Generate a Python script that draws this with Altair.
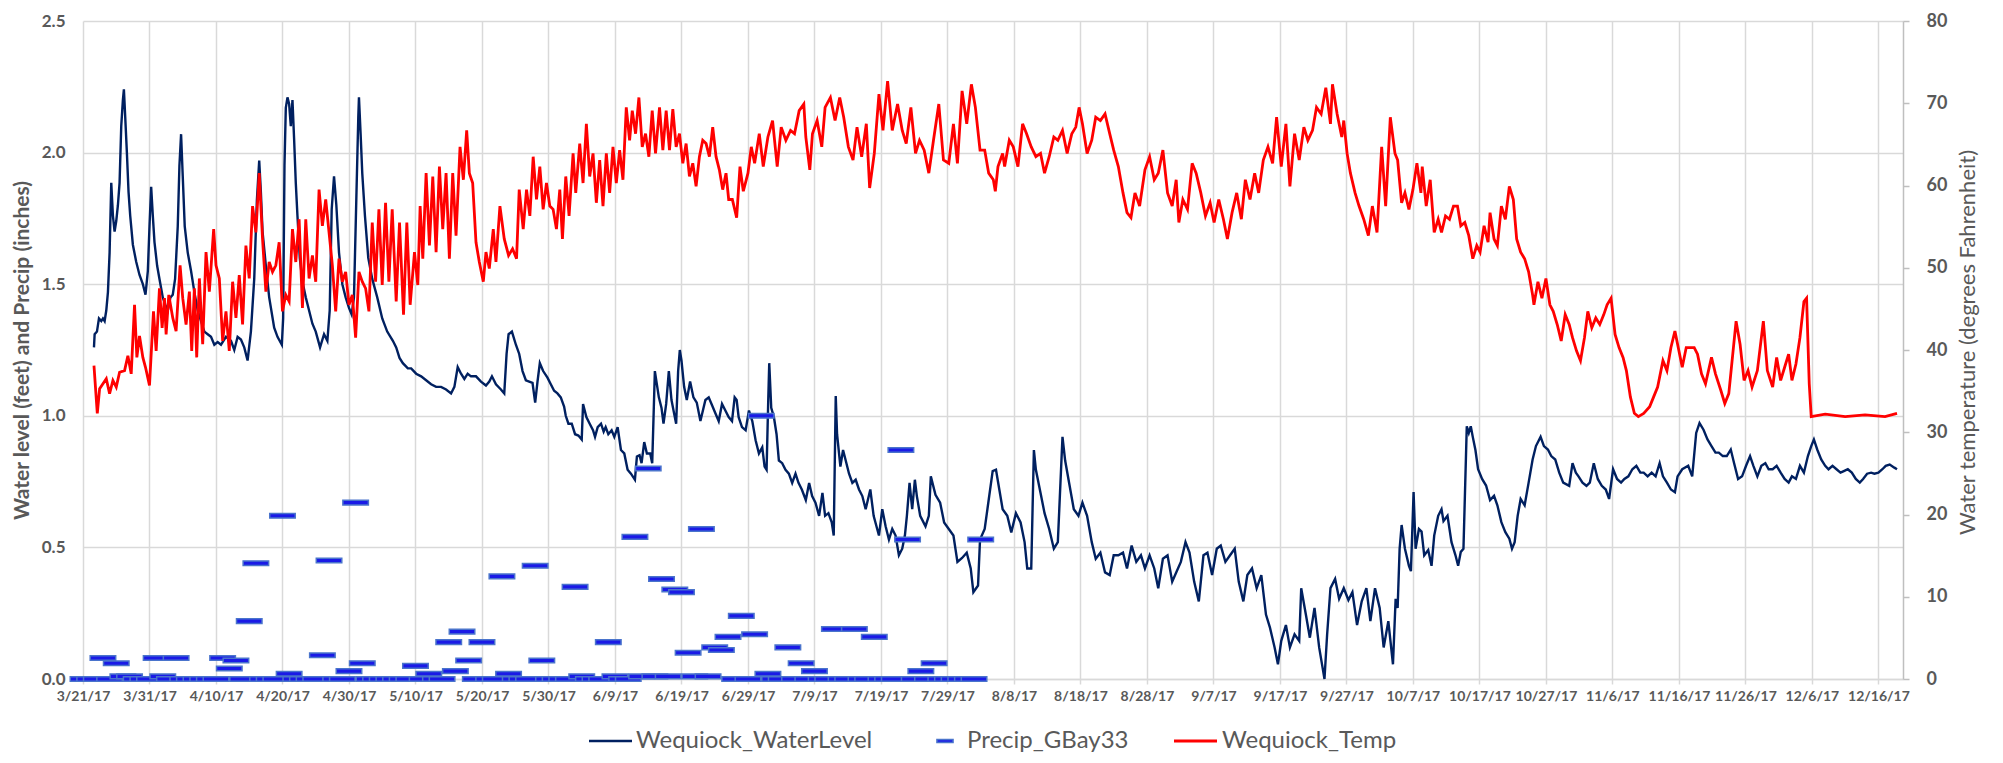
import json
import altair as alt
import pandas as pd

FONT = "Lato"
GREY = "#595959"
GRID = "#d9d9d9"

# x tick labels, one every 10 days starting 3/21/17 (day 0)
tick_labels = ["3/21/17", "3/31/17", "4/10/17", "4/20/17", "4/30/17", "5/10/17", "5/20/17",
               "5/30/17", "6/9/17", "6/19/17", "6/29/17", "7/9/17", "7/19/17", "7/29/17",
               "8/8/17", "8/18/17", "8/28/17", "9/7/17", "9/17/17", "9/27/17", "10/7/17",
               "10/17/17", "10/27/17", "11/6/17", "11/16/17", "11/26/17", "12/6/17", "12/16/17"]
tick_days = [10 * i for i in range(len(tick_labels))]

legend_names = ["Wequiock_WaterLevel", "Precip_GBay33", "Wequiock_Temp"]

# Wequiock water level (feet): (days since 3/21/17, value)
wl_points = [
    (1.65, 1.26), (1.75, 1.31), (2.1, 1.32), (2.4, 1.37), (2.75, 1.36), (3.0, 1.37), (3.25, 1.36),
    (3.5, 1.40), (3.75, 1.47), (4.0, 1.62), (4.25, 1.885), (4.5, 1.76), (4.75, 1.70), (5.0, 1.74),
    (5.25, 1.80), (5.5, 1.885), (5.75, 2.10), (6.0, 2.20), (6.15, 2.24), (6.35, 2.135), (6.6, 2.0),
    (6.85, 1.85), (7.1, 1.76), (7.5, 1.65), (8.0, 1.585), (8.5, 1.535), (9.0, 1.50), (9.4, 1.46),
    (9.75, 1.55), (10.0, 1.72), (10.25, 1.87), (10.5, 1.76), (10.75, 1.66), (11.15, 1.57),
    (11.5, 1.52), (12.0, 1.45), (12.4, 1.42), (12.75, 1.40), (13.15, 1.45), (13.5, 1.46),
    (13.85, 1.52), (14.25, 1.72), (14.5, 1.95), (14.75, 2.07), (15.0, 1.91), (15.3, 1.72),
    (15.75, 1.62), (16.25, 1.55), (16.75, 1.47), (17.25, 1.40), (17.75, 1.36), (18.25, 1.32),
    (18.75, 1.31), (19.25, 1.30), (19.75, 1.27), (20.25, 1.28), (20.75, 1.27), (21.5, 1.30),
    (22.25, 1.285), (22.75, 1.25), (23.25, 1.30), (23.75, 1.29), (24.25, 1.26), (24.75, 1.21),
    (25.25, 1.32), (25.75, 1.52), (26.15, 1.82), (26.5, 1.97), (26.75, 1.85), (27.0, 1.70),
    (27.5, 1.57), (28.0, 1.45), (28.75, 1.335), (29.25, 1.30), (29.9, 1.27), (30.1, 1.37),
    (30.3, 1.95), (30.5, 2.17), (30.75, 2.21), (31.0, 2.185), (31.25, 2.10), (31.5, 2.20),
    (31.75, 2.05), (32.0, 1.885), (32.25, 1.76), (32.6, 1.60), (33.0, 1.51), (33.5, 1.45),
    (34.0, 1.40), (34.5, 1.35), (35.0, 1.32), (35.65, 1.26), (36.25, 1.31), (36.75, 1.285),
    (37.1, 1.40), (37.4, 1.785), (37.75, 1.91), (38.1, 1.80), (38.5, 1.62), (39.0, 1.50),
    (39.5, 1.45), (40.0, 1.41), (40.4, 1.385), (40.75, 1.45), (41.1, 1.82), (41.4, 2.135),
    (41.5, 2.21), (41.75, 2.07), (42.0, 1.92), (42.4, 1.76), (42.9, 1.60), (43.5, 1.52),
    (44.25, 1.45), (45.0, 1.37), (45.75, 1.32), (46.6, 1.285), (47.1, 1.26), (47.6, 1.22),
    (48.1, 1.20), (48.85, 1.18), (49.35, 1.18), (50.1, 1.16), (50.85, 1.15), (51.6, 1.135),
    (52.35, 1.12), (53.1, 1.11), (53.85, 1.11), (54.6, 1.10), (55.35, 1.085), (55.85, 1.11),
    (56.35, 1.185), (56.85, 1.16), (57.35, 1.14), (57.85, 1.16), (58.35, 1.15), (59.1, 1.15),
    (59.85, 1.13), (60.6, 1.115), (61.1, 1.13), (61.5, 1.15), (62.1, 1.12), (62.85, 1.10),
    (63.35, 1.085), (63.7, 1.235), (64.0, 1.31), (64.5, 1.32), (65.1, 1.27), (65.6, 1.235),
    (66.1, 1.17), (66.6, 1.135), (67.1, 1.13), (67.6, 1.125), (68.0, 1.05), (68.35, 1.13),
    (68.7, 1.20), (69.2, 1.17), (69.85, 1.145), (70.35, 1.12), (70.85, 1.095), (71.35, 1.085),
    (71.85, 1.07), (72.35, 1.035), (72.6, 1.0), (73.0, 0.97), (73.5, 0.97), (74.0, 0.93),
    (74.5, 0.925), (75.0, 0.91), (75.2, 1.045), (75.7, 0.995), (76.2, 0.97), (76.7, 0.945),
    (77.0, 0.92), (77.4, 0.957), (77.9, 0.97), (78.3, 0.94), (78.6, 0.957), (79.0, 0.93),
    (79.5, 0.945), (79.9, 0.92), (80.4, 0.957), (80.9, 0.87), (81.4, 0.857), (81.9, 0.795),
    (82.4, 0.78), (83.0, 0.757), (83.3, 0.845), (83.7, 0.85), (84.0, 0.82), (84.4, 0.90),
    (84.8, 0.857), (85.3, 0.857), (85.6, 0.82), (85.8, 0.995), (86.0, 1.17), (86.6, 1.07),
    (87.0, 1.03), (87.3, 0.97), (87.7, 1.045), (88.1, 1.17), (88.5, 1.06), (89.0, 0.995),
    (89.2, 0.97), (89.5, 1.17), (89.75, 1.25), (90.0, 1.21), (90.4, 1.11), (90.8, 1.06),
    (91.3, 1.13), (91.8, 1.07), (92.3, 1.05), (92.85, 0.98), (93.6, 1.06), (94.1, 1.07),
    (94.6, 1.04), (95.1, 1.01), (95.6, 0.98), (96.1, 1.045), (96.6, 1.02), (97.1, 0.995),
    (97.6, 0.98), (98.0, 1.07), (98.3, 1.06), (98.6, 0.995), (99.1, 0.957), (99.65, 0.945),
    (100.15, 1.02), (100.65, 0.98), (101.15, 0.907), (101.65, 0.857), (102.15, 0.88),
    (102.5, 0.807), (102.8, 0.795), (103.05, 1.06), (103.2, 1.20), (103.5, 1.03), (103.9, 0.995),
    (104.3, 0.93), (104.65, 0.83), (105.15, 0.82), (105.65, 0.795), (106.15, 0.78),
    (106.65, 0.745), (107.15, 0.78), (107.6, 0.745), (108.1, 0.72), (108.7, 0.68), (109.2, 0.745),
    (109.65, 0.695), (110.15, 0.67), (110.7, 0.62), (111.2, 0.707), (111.6, 0.62), (112.1, 0.63),
    (112.6, 0.595), (112.9, 0.545), (113.2, 1.075), (113.4, 0.93), (113.9, 0.807), (114.3, 0.87),
    (114.7, 0.83), (115.2, 0.78), (115.7, 0.745), (116.2, 0.757), (116.7, 0.72), (117.2, 0.695),
    (117.7, 0.645), (118.4, 0.72), (118.9, 0.62), (119.7, 0.545), (120.2, 0.645), (120.7, 0.58),
    (121.2, 0.53), (121.7, 0.57), (122.2, 0.545), (122.7, 0.47), (123.2, 0.495), (123.6, 0.545),
    (123.9, 0.62), (124.3, 0.745), (124.7, 0.645), (125.1, 0.757), (125.4, 0.695), (125.9, 0.62),
    (126.7, 0.58), (127.2, 0.62), (127.5, 0.77), (128.2, 0.70), (128.9, 0.67), (129.5, 0.595),
    (130.2, 0.57), (130.9, 0.545), (131.5, 0.445), (132.2, 0.46), (132.9, 0.48), (133.5, 0.42),
    (133.9, 0.33), (134.6, 0.355), (134.9, 0.53), (135.6, 0.57), (136.2, 0.68), (136.8, 0.79),
    (137.3, 0.795), (137.8, 0.72), (138.3, 0.645), (139.0, 0.62), (139.6, 0.557), (140.3, 0.63),
    (141.0, 0.595), (141.6, 0.52), (142.0, 0.42), (142.6, 0.42), (143.0, 0.87), (143.3, 0.795),
    (144.0, 0.707), (144.6, 0.63), (145.3, 0.57), (146.0, 0.495), (146.6, 0.52), (147.3, 0.92),
    (147.7, 0.83), (148.3, 0.745), (149.0, 0.645), (149.7, 0.62), (150.3, 0.67), (151.0, 0.62),
    (151.7, 0.52), (152.3, 0.457), (153.0, 0.48), (153.7, 0.405), (154.4, 0.395), (155.0, 0.47),
    (155.7, 0.47), (156.4, 0.48), (157.0, 0.42), (157.7, 0.507), (158.4, 0.445), (159.1, 0.47),
    (159.7, 0.42), (160.4, 0.47), (161.1, 0.42), (161.7, 0.345), (162.4, 0.457), (163.1, 0.47),
    (163.8, 0.37), (164.4, 0.405), (165.1, 0.445), (165.8, 0.52), (166.4, 0.48), (167.1, 0.37),
    (167.8, 0.295), (168.5, 0.47), (169.1, 0.48), (169.8, 0.395), (170.5, 0.495), (171.1, 0.507),
    (171.8, 0.445), (172.5, 0.47), (173.2, 0.495), (173.8, 0.37), (174.5, 0.295), (175.1, 0.395),
    (175.8, 0.42), (176.5, 0.345), (177.2, 0.395), (177.9, 0.245), (178.5, 0.195), (179.2, 0.12),
    (179.7, 0.056), (180.2, 0.145), (180.9, 0.205), (181.5, 0.12), (182.2, 0.17), (182.9, 0.145),
    (183.2, 0.345), (183.9, 0.245), (184.5, 0.157), (185.2, 0.27), (185.9, 0.12), (186.4, 0.045),
    (186.7, 0.0), (187.1, 0.17), (187.6, 0.345), (188.3, 0.38), (188.9, 0.305), (189.6, 0.345),
    (190.3, 0.30), (190.9, 0.33), (191.6, 0.205), (192.3, 0.295), (193.0, 0.345), (193.6, 0.22),
    (194.3, 0.345), (195.0, 0.27), (195.6, 0.12), (196.3, 0.22), (197.0, 0.056), (197.4, 0.305),
    (197.7, 0.27), (198.0, 0.495), (198.3, 0.585), (198.8, 0.495), (199.4, 0.43), (199.7, 0.41),
    (200.1, 0.71), (200.4, 0.495), (200.9, 0.57), (201.3, 0.56), (201.7, 0.47), (202.3, 0.49),
    (202.8, 0.43), (203.2, 0.545), (203.8, 0.62), (204.3, 0.645), (204.6, 0.60), (205.2, 0.62),
    (205.8, 0.52), (206.4, 0.47), (206.8, 0.43), (207.2, 0.483), (207.6, 0.495), (208.1, 0.96),
    (208.4, 0.935), (208.7, 0.96), (209.0, 0.92), (209.4, 0.87), (209.8, 0.797), (210.4, 0.76),
    (211.0, 0.735), (211.6, 0.68), (212.2, 0.696), (212.7, 0.66), (213.3, 0.596), (213.9, 0.558),
    (214.5, 0.533), (214.9, 0.495), (215.3, 0.52), (215.75, 0.62), (216.2, 0.684), (216.8, 0.66),
    (217.4, 0.746), (218.0, 0.834), (218.5, 0.885), (219.2, 0.92), (219.7, 0.885), (220.3, 0.872),
    (220.8, 0.847), (221.4, 0.834), (222.0, 0.784), (222.6, 0.746), (223.5, 0.734), (224.0, 0.82),
    (224.5, 0.784), (224.9, 0.77), (225.5, 0.746), (226.1, 0.734), (226.6, 0.746), (227.2, 0.82),
    (227.8, 0.76), (228.4, 0.734), (229.0, 0.72), (229.5, 0.684), (230.1, 0.797), (230.7, 0.76),
    (231.3, 0.746), (231.8, 0.76), (232.4, 0.77), (233.0, 0.797), (233.6, 0.81), (234.2, 0.784),
    (234.7, 0.784), (235.3, 0.77), (235.9, 0.784), (236.5, 0.77), (237.1, 0.82), (237.6, 0.77),
    (238.2, 0.746), (238.8, 0.72), (239.4, 0.71), (239.8, 0.77), (240.5, 0.797), (241.4, 0.81),
    (242.0, 0.77), (242.6, 0.935), (243.1, 0.972), (243.7, 0.947), (244.3, 0.91), (244.9, 0.885),
    (245.5, 0.86), (246.0, 0.86), (246.6, 0.847), (247.2, 0.847), (247.8, 0.872), (248.3, 0.82),
    (248.9, 0.76), (249.5, 0.77), (250.1, 0.81), (250.7, 0.847), (251.2, 0.81), (251.8, 0.77),
    (252.4, 0.81), (253.0, 0.82), (253.5, 0.797), (254.1, 0.797), (254.7, 0.81), (255.3, 0.784),
    (255.9, 0.76), (256.5, 0.746), (257.0, 0.77), (257.6, 0.76), (258.2, 0.81), (258.8, 0.784),
    (259.4, 0.847), (259.9, 0.885), (260.3, 0.91), (260.8, 0.872), (261.4, 0.834), (262.0, 0.81),
    (262.5, 0.797), (263.1, 0.81), (263.7, 0.797), (264.3, 0.784), (264.8, 0.79), (265.4, 0.797),
    (266.0, 0.784), (266.6, 0.76), (267.2, 0.746), (267.7, 0.76), (268.3, 0.78), (268.9, 0.784),
    (269.4, 0.78), (270.0, 0.784), (270.6, 0.797), (271.1, 0.81), (271.7, 0.815), (272.4, 0.803),
    (272.8, 0.797),
]

# Wequiock water temperature (deg F): (days since 3/21/17, value)
temp_points = [
    (1.65, 38.1), (2.15, 32.3), (2.5, 35.3), (3.5, 36.5), (4.0, 34.7), (4.5, 36.3), (5.0, 35.5),
    (5.5, 37.3), (6.25, 37.5), (6.75, 39.3), (7.25, 37.1), (7.75, 45.5), (8.1, 39.1), (8.5, 41.7),
    (9.0, 39.1), (9.4, 37.9), (10.0, 35.7), (10.6, 44.7), (11.0, 39.9), (11.5, 47.5), (11.9, 42.7),
    (12.25, 46.3), (12.5, 41.9), (12.9, 46.7), (13.5, 43.9), (14.0, 42.3), (14.6, 50.3),
    (15.0, 46.3), (15.5, 43.1), (16.0, 47.1), (16.35, 39.9), (16.75, 47.5), (17.1, 39.1),
    (17.5, 48.7), (18.0, 40.7), (18.5, 51.9), (19.0, 47.1), (19.65, 54.7), (20.0, 50.3),
    (20.5, 48.7), (21.0, 41.1), (21.5, 44.7), (22.0, 39.9), (22.5, 48.3), (23.0, 43.9),
    (23.5, 49.1), (24.0, 43.1), (24.5, 52.7), (25.0, 48.7), (25.5, 57.5), (26.0, 54.3),
    (26.5, 61.5), (27.0, 53.5), (27.5, 47.1), (28.0, 50.7), (28.5, 49.5), (29.0, 50.3),
    (29.5, 53.1), (30.0, 44.7), (30.5, 46.7), (31.0, 45.9), (31.5, 54.7), (32.0, 50.7),
    (32.5, 55.9), (33.0, 45.1), (33.5, 55.9), (34.0, 48.7), (34.5, 51.5), (35.0, 48.3),
    (35.5, 59.5), (36.0, 55.1), (36.5, 58.3), (37.0, 54.3), (37.5, 50.3), (38.0, 44.7),
    (38.5, 51.1), (39.0, 48.3), (39.5, 49.5), (40.0, 45.5), (40.5, 46.7), (41.0, 41.5),
    (41.5, 49.5), (42.0, 48.3), (42.5, 47.5), (43.0, 44.7), (43.5, 55.5), (44.0, 48.3),
    (44.5, 57.1), (45.0, 47.9), (45.5, 57.9), (46.0, 48.3), (46.5, 57.1), (47.1, 45.9),
    (47.6, 55.5), (48.2, 44.3), (48.7, 55.5), (49.2, 45.5), (49.85, 51.9), (50.35, 47.9),
    (50.7, 57.5), (51.1, 51.1), (51.6, 61.5), (52.1, 52.7), (52.6, 61.1), (53.1, 51.9),
    (53.6, 62.3), (54.1, 54.7), (54.6, 61.5), (55.1, 51.1), (55.6, 61.5), (56.1, 53.9),
    (56.7, 64.7), (57.2, 60.7), (57.7, 66.7), (58.1, 61.5), (58.6, 60.3), (59.1, 53.1),
    (59.6, 50.7), (60.2, 48.3), (60.6, 51.9), (61.1, 49.9), (61.7, 54.7), (62.1, 50.7),
    (62.7, 57.5), (63.35, 53.5), (64.0, 51.5), (64.6, 52.3), (65.2, 51.1), (65.6, 59.5),
    (66.2, 54.7), (66.7, 59.5), (67.2, 56.3), (67.7, 63.5), (68.2, 58.3), (68.7, 62.3),
    (69.2, 57.1), (69.7, 60.3), (70.2, 57.5), (70.7, 57.1), (71.2, 54.7), (71.7, 59.5),
    (72.1, 53.5), (72.6, 61.1), (73.1, 56.3), (73.7, 63.9), (74.1, 59.1), (74.7, 65.1),
    (75.2, 60.3), (75.7, 67.5), (76.2, 61.1), (76.7, 63.9), (77.2, 57.9), (77.7, 63.1),
    (78.2, 57.5), (78.7, 63.9), (79.2, 59.1), (79.7, 64.7), (80.2, 60.3), (80.7, 64.3),
    (81.2, 60.7), (81.7, 69.5), (82.2, 65.5), (82.6, 69.1), (83.1, 66.3), (83.6, 70.7),
    (84.1, 64.7), (84.6, 66.3), (85.1, 63.5), (85.6, 69.1), (86.1, 63.9), (86.7, 69.5),
    (87.2, 64.3), (87.7, 69.1), (88.2, 64.3), (88.7, 69.3), (89.2, 64.7), (89.7, 66.3),
    (90.2, 62.7), (90.7, 65.1), (91.2, 61.1), (91.7, 62.7), (92.2, 59.9), (92.7, 63.5),
    (93.2, 65.5), (93.7, 65.1), (94.2, 63.5), (94.7, 67.1), (95.2, 63.5), (95.7, 61.9),
    (96.2, 59.5), (96.7, 61.5), (97.1, 58.3), (97.65, 58.3), (98.3, 56.1), (98.8, 62.3),
    (99.3, 59.3), (100.0, 61.5), (100.5, 64.7), (101.0, 62.7), (101.7, 66.3), (102.3, 62.3),
    (103.0, 65.9), (103.7, 67.9), (104.4, 62.3), (105.0, 67.1), (105.7, 65.5), (106.4, 66.7),
    (107.0, 66.3), (107.7, 69.1), (108.4, 69.9), (108.7, 65.9), (109.3, 61.9), (109.7, 66.3),
    (110.4, 67.9), (111.1, 64.7), (111.6, 69.5), (112.4, 70.7), (113.1, 67.9), (113.8, 70.7),
    (114.4, 68.3), (115.1, 64.7), (115.8, 63.1), (116.4, 67.1), (117.1, 63.5), (117.8, 67.5),
    (118.3, 59.7), (119.0, 63.9), (119.7, 71.1), (120.3, 66.7), (121.0, 72.7), (121.7, 66.7),
    (122.5, 69.9), (123.2, 66.7), (123.8, 65.1), (124.5, 69.5), (125.2, 63.9), (125.8, 65.5),
    (126.5, 64.3), (127.2, 61.5), (127.9, 65.5), (128.7, 69.9), (129.4, 63.1), (130.2, 62.7),
    (130.9, 67.5), (131.5, 62.7), (132.2, 71.5), (132.9, 67.5), (133.6, 72.3), (134.2, 69.5),
    (134.9, 64.3), (135.6, 64.3), (136.2, 61.5), (136.9, 60.7), (137.2, 59.3), (137.6, 62.3),
    (138.3, 63.9), (138.6, 62.3), (139.3, 65.5), (139.9, 64.7), (140.6, 62.3), (141.3, 67.5),
    (141.9, 66.3), (142.6, 64.7), (143.3, 63.5), (144.0, 63.9), (144.6, 61.5), (145.3, 63.5),
    (146.0, 65.9), (146.6, 65.5), (147.3, 66.7), (148.0, 63.9), (148.7, 66.3), (149.3, 67.1),
    (149.8, 69.5), (150.3, 67.5), (151.0, 63.9), (151.7, 65.5), (152.3, 68.3), (153.0, 67.9),
    (153.7, 68.7), (154.4, 66.3), (155.0, 64.3), (155.7, 62.3), (156.4, 59.1), (157.0, 56.7),
    (157.6, 56.1), (158.2, 59.1), (158.9, 57.5), (159.7, 61.9), (160.4, 63.5), (161.1, 60.7),
    (161.7, 61.5), (162.4, 64.3), (163.1, 59.1), (163.8, 57.5), (164.4, 60.7), (164.8, 55.5),
    (165.4, 58.3), (166.1, 57.1), (166.8, 62.7), (167.4, 61.5), (168.1, 59.1), (168.8, 56.3),
    (169.5, 57.9), (170.1, 55.5), (170.8, 58.3), (171.5, 55.9), (172.1, 53.5), (172.8, 56.7),
    (173.5, 59.1), (174.2, 55.9), (174.8, 60.7), (175.5, 58.3), (176.2, 61.5), (176.8, 59.1),
    (177.5, 63.1), (178.2, 64.7), (178.9, 62.7), (179.5, 68.3), (180.2, 62.3), (180.9, 67.5),
    (181.5, 59.9), (182.2, 66.3), (182.9, 63.1), (183.6, 67.1), (184.2, 65.5), (184.9, 66.7),
    (185.5, 69.5), (186.2, 68.7), (186.9, 71.9), (187.6, 67.5), (187.9, 72.3), (188.6, 68.7),
    (189.3, 65.9), (189.6, 67.9), (190.1, 63.9), (190.6, 61.5), (191.3, 59.1), (191.9, 57.5),
    (192.6, 55.9), (193.3, 53.9), (193.9, 57.5), (194.6, 54.3), (195.3, 64.7), (195.9, 57.5),
    (196.6, 68.3), (197.3, 63.9), (197.7, 63.1), (198.3, 57.9), (198.8, 59.1), (199.4, 57.1),
    (200.0, 59.5), (200.6, 62.7), (201.2, 59.1), (201.4, 62.3), (202.0, 57.5), (202.6, 60.7),
    (203.2, 54.3), (203.8, 55.9), (204.3, 54.3), (204.9, 56.3), (205.5, 55.9), (206.1, 57.5),
    (206.7, 57.5), (207.2, 55.1), (207.8, 55.5), (208.4, 53.9), (209.0, 51.1), (209.6, 52.7),
    (210.1, 51.9), (210.7, 55.1), (211.3, 53.1), (211.6, 56.7), (212.2, 53.5), (212.7, 52.7),
    (213.3, 57.5), (213.9, 55.9), (214.5, 59.9), (215.1, 58.3), (215.6, 53.5), (216.2, 51.9),
    (216.8, 51.1), (217.4, 49.5), (218.0, 46.7), (218.2, 45.5), (218.8, 48.3), (219.4, 46.3),
    (220.0, 48.7), (220.6, 45.5), (221.1, 44.7), (221.7, 43.1), (222.3, 41.1), (222.9, 44.3),
    (223.5, 43.1), (224.0, 41.5), (224.6, 39.9), (225.2, 38.7), (225.8, 41.5), (226.3, 44.7),
    (226.9, 42.7), (227.5, 43.9), (228.1, 43.1), (228.7, 44.3), (229.2, 45.5), (229.8, 46.3),
    (230.4, 41.9), (231.0, 40.3), (231.6, 39.1), (232.1, 37.5), (232.7, 34.3), (233.3, 32.3),
    (233.9, 31.9), (234.7, 32.3), (235.6, 33.1), (236.2, 34.3), (236.8, 35.5), (237.6, 38.7),
    (238.2, 37.5), (238.8, 40.3), (239.4, 42.3), (240.0, 39.9), (240.5, 37.9), (241.1, 40.3),
    (241.7, 40.3), (242.3, 40.3), (242.8, 39.5), (243.4, 37.1), (244.0, 35.9), (244.9, 39.1),
    (245.5, 37.1), (246.3, 35.1), (246.9, 33.5), (247.5, 34.7), (248.6, 43.5), (249.2, 40.7),
    (249.8, 36.3), (250.4, 37.5), (251.0, 35.5), (251.8, 37.5), (252.7, 43.5), (253.3, 37.5),
    (254.1, 35.5), (254.7, 39.1), (255.3, 36.3), (255.9, 37.9), (256.5, 39.5), (257.0, 36.3),
    (257.6, 38.3), (258.2, 41.5), (258.8, 45.9), (259.2, 46.3), (259.6, 35.9), (259.9, 31.9),
    (262.0, 32.2), (265.0, 31.9), (268.0, 32.1), (271.0, 31.9), (272.8, 32.3),
]

# Precip_GBay33 (inches), one value per day from 3/21/17
precip = [
    0, 0, 0, 0.08, 0, 0.06, 0.01, 0.01, 0, 0,
    0, 0.08, 0.01, 0, 0.08, 0, 0, 0, 0, 0,
    0, 0.08, 0.04, 0.07, 0, 0.22, 0.44, 0, 0, 0,
    0.62, 0.02, 0, 0, 0, 0, 0.09, 0.45, 0, 0,
    0.03, 0.67, 0.06, 0, 0, 0, 0, 0, 0, 0,
    0.05, 0, 0.02, 0, 0, 0.14, 0.03, 0.18, 0.07, 0,
    0.14, 0, 0, 0.39, 0.02, 0, 0, 0, 0.43, 0.07,
    0, 0, 0, 0, 0.35, 0.01, 0, 0, 0, 0.14,
    0.01, 0, 0, 0.54, 0.01, 0.80, 0.01, 0.38, 0.01, 0.34,
    0.33, 0.10, 0.01, 0.57, 0.01, 0.12, 0.11, 0.16, 0, 0.24,
    0, 0.17, 1.00, 0.02, 0, 0, 0.12, 0, 0.06, 0,
    0.03, 0, 0, 0.19, 0, 0, 0.19, 0, 0, 0.16,
    0, 0, 0, 0.87, 0.53, 0, 0.03, 0, 0.06, 0,
    0, 0, 0, 0, 0, 0.53,
]

wl_df = pd.DataFrame(wl_points, columns=["day", "value"])
temp_df = pd.DataFrame(temp_points, columns=["day", "value"])
pr_df = pd.DataFrame({"day": list(range(len(precip))), "value": precip})

DASH = "M-1,-0.18L1,-0.18L1,0.18L-1,0.18Z"
PR_FILL = "#1a1ae6"
PR_STROKE = "#4a74cc"

W, H = 1820, 658

label_expr = json.dumps(tick_labels) + "[round(datum.value / 10)]"

x_enc = alt.X(
    "day:Q",
    scale=alt.Scale(domain=[0, 273.7], nice=False, zero=False),
    axis=alt.Axis(
        values=tick_days, labelExpr=label_expr, title=None,
        grid=True, gridColor=GRID, gridWidth=1.5,
        domain=True, domainColor=GRID, domainWidth=1.5,
        ticks=True, tickColor=GRID, tickSize=5, tickWidth=1.5,
        labelFont=FONT, labelFontSize=14, labelFontWeight="bold", labelColor=GREY,
        labelPadding=5, labelFlush=False, labelOverlap=False,
    ),
)

y_left = alt.Y(
    "value:Q",
    scale=alt.Scale(domain=[0, 2.5], nice=False, zero=True),
    axis=alt.Axis(
        orient="left", values=[0, 0.5, 1.0, 1.5, 2.0, 2.5], format=".1f",
        grid=True, gridColor=GRID, gridWidth=1.5, domain=False, ticks=False,
        labelFont=FONT, labelFontSize=17, labelFontWeight="bold", labelColor=GREY, labelPadding=18,
        title="Water level (feet) and Precip (inches)", titleFont=FONT, titleFontSize=21,
        titleFontWeight="bold", titleColor=GREY, titleAngle=270, titleX=-61, titleY=H / 2,
        titleAlign="center", titleBaseline="middle",
    ),
)

y_right = alt.Y(
    "value:Q",
    scale=alt.Scale(domain=[0, 80], nice=False, zero=True),
    axis=alt.Axis(
        orient="right", values=list(range(0, 81, 10)),
        grid=False, domain=True, domainColor="#bfbfbf", domainWidth=1.5,
        ticks=True, tickColor="#bfbfbf", tickSize=6, tickWidth=1.5,
        labelFont=FONT, labelFontSize=18, labelFontWeight="bold", labelColor=GREY, labelPadding=17,
        title="Water temperature (degrees Fahrenheit)", titleFont=FONT, titleFontSize=22,
        titleFontWeight="normal", titleColor=GREY, titleAngle=270, titleX=64, titleY=H / 2 - 8,
        titleAlign="center", titleBaseline="middle",
    ),
)

wl_line = alt.Chart(wl_df).mark_line(color="#002060", strokeWidth=2.4).encode(x=x_enc, y=y_left)
pr_marks = alt.Chart(pr_df).mark_point(
    shape=DASH, filled=True, fill=PR_FILL, stroke=PR_STROKE, strokeWidth=1.5, size=650, opacity=1
).encode(x=x_enc, y=y_left)
temp_line = alt.Chart(temp_df).mark_line(color="#ff0000", strokeWidth=2.8).encode(x=x_enc, y=y_right)

# legend (bottom, centered)
LY = 720
LFS = 24
leg_df = [pd.DataFrame({"label": [n]}) for n in legend_names]
leg_wl_sym = alt.Chart(leg_df[0]).mark_rule(color="#002060", strokeWidth=2.6).encode(
    x=alt.value(506), x2=alt.value(549), y=alt.value(LY))
leg_wl_txt = alt.Chart(leg_df[0]).mark_text(
    align="left", baseline="middle", font=FONT, fontSize=LFS, color=GREY).encode(
    x=alt.value(553), y=alt.value(LY), text="label:N")
leg_pr_sym = alt.Chart(leg_df[1]).mark_point(
    shape=DASH, filled=True, fill=PR_FILL, stroke=PR_STROKE, strokeWidth=1.5, size=260, opacity=1
).encode(x=alt.value(862), y=alt.value(LY))
leg_pr_txt = alt.Chart(leg_df[1]).mark_text(
    align="left", baseline="middle", font=FONT, fontSize=LFS, color=GREY).encode(
    x=alt.value(884), y=alt.value(LY), text="label:N")
leg_t_sym = alt.Chart(leg_df[2]).mark_rule(color="#ff0000", strokeWidth=2.8).encode(
    x=alt.value(1091), x2=alt.value(1134), y=alt.value(LY))
leg_t_txt = alt.Chart(leg_df[2]).mark_text(
    align="left", baseline="middle", font=FONT, fontSize=LFS, color=GREY).encode(
    x=alt.value(1139), y=alt.value(LY), text="label:N")

left_layer = alt.layer(wl_line, pr_marks)
chart = alt.layer(
    left_layer, temp_line,
    leg_wl_sym, leg_wl_txt, leg_pr_sym, leg_pr_txt, leg_t_sym, leg_t_txt,
).resolve_scale(y="independent").properties(
    width=W, height=H,
    autosize=alt.AutoSizeParams(type="none"),
    padding={"left": 75, "top": 13, "right": 90, "bottom": 76},
    background="white",
).configure_view(stroke=None)

chart.save("out.html", embed_options={"renderer": "svg", "actions": False})
